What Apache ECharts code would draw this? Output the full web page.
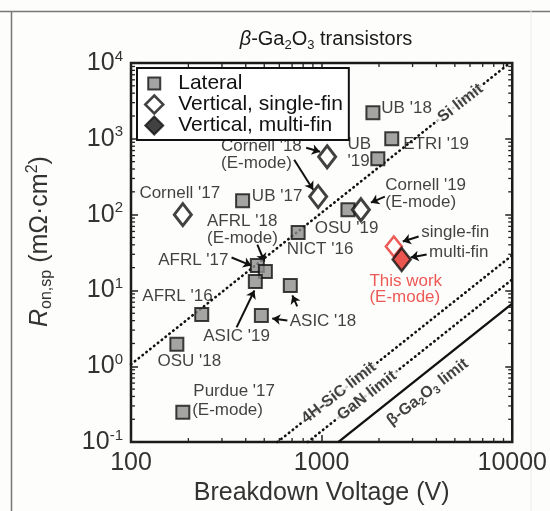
<!DOCTYPE html>
<html><head><meta charset="utf-8">
<script src="https://cdn.jsdelivr.net/npm/echarts@6/dist/echarts.min.js"></script>
<style>html,body{margin:0;padding:0;background:#fdfdfb}#c{width:550px;height:511px}</style>
</head><body><div id="c"></div><script>
const FONT = "'Liberation Sans', Arial, Helvetica, sans-serif";

// Lateral devices [V (V), Ron,sp (mOhm.cm2)]
const lateral = [
  [1858, 2200],  // UB '18
  [2333, 1000],  // ETRI '19
  [1972, 546],   // UB '19
  [1374, 116],   // OSU '19
  [753, 58],     // NICT '16
  [385, 153],    // UB '17
  [460, 21.3],   // AFRL '17
  [507, 17.8],   // AFRL '18 (E-mode)
  [449, 13.1],   // ASIC '19
  [685, 11.6],   // ASIC '18
  [483, 4.69],   // ASIC '18
  [235, 4.83],   // AFRL '16
  [174, 1.95],   // OSU '18
  [187, 0.248]   // Purdue '17
];
// Vertical single-fin devices
const singleFin = [
  [187, 100],    // Cornell '17
  [1069, 579],   // Cornell '18
  [959, 173],    // Cornell '18 (E-mode)
  [1607, 116]    // Cornell '19 (E-mode)
];
const multiFin = [];
const thisWorkSingle = [[2393, 37.9]];
const thisWorkMulti = [[2630, 25.6]];

// material limit lines (end points)
const siLimit = [[100, 1.06], [9710, 10000]];
const sicLimit = [[586, 0.1], [10000, 29.1]];
const ganLimit = [[845, 0.1], [10000, 14]];
const gaoLimit = [[1222, 0.1], [10000, 6.7]];

const limitLabels = [
  [5350, 2950, 'Si limit'],
  [1233, 0.445, '4H-SiC limit'],
  [1730, 0.41, 'GaN limit']
];
const gaoLabel = [[3600, 0.455, 'gao']];

// annotation text anchors (left edge, middle) in data units
const notes = [
  [2045, 2560, "UB '18"],
  [2665, 834, "ETRI '19"],
  [1358, 655, "UB\n'19"],
  [2146, 189, "Cornell '19\n(E-mode)"],
  [914, 65.5, "OSU '19"],
  [653, 34.6, "NICT '16"],
  [3311, 58, "single-fin"],
  [3639, 31.6, "multi-fin"],
  [295, 615, "Cornell '18\n(E-mode)"],
  [110, 189, "Cornell '17"],
  [428, 173, "UB '17"],
  [249, 63.5, "AFRL '18\n(E-mode)"],
  [138, 24.8, "AFRL '17"],
  [114, 8.34, "AFRL '16"],
  [238, 2.48, "ASIC '19"],
  [676, 3.91, "ASIC '18"],
  [137, 1.16, "OSU '18"],
  [211, 0.469, "Purdue '17"],
  [208, 0.264, "(E-mode)"]
];
const redNotes = [[1770, 10.3, "This work\n(E-mode)"]];

// arrows: [from, to]
const arrows = [
  [[830, 762], [981, 675]],
  [[718, 530], [903, 213]],
  [[2146, 173], [1814, 144]],
  [[3228, 51.4], [2665, 44.2]],
  [[3556, 29.8], [2930, 27.2]],
  [[460, 40.3], [501, 24.1]],
  [[337, 27.2], [428, 21.3]],
  [[358, 3.26], [444, 10]],
  [[661, 4.03], [551, 4.28]],
  [[745, 6.15], [702, 8.6]]
];

const xTicks = [100, 1000, 10000];
const mant = [2, 3, 4, 5, 6, 7, 8, 9];
const xMinorTicks = [100, 1000].flatMap(d => mant.map(m => m * d));
const yMinorTicks = [0.1, 1, 10, 100, 1000].flatMap(d => mant.map(m => +(m * d).toPrecision(3)));

const chart = echarts.init(document.getElementById('c'), null, {renderer: 'canvas'});

const dotted = {type: [0.5, 4.4], cap: 'round', width: 2.6, color: '#111'};
function limitLine(data, style, name) {
  return {type: 'line', name, data, symbol: 'none', showSymbol: false, silent: true,
    lineStyle: style, z: 2, clip: true};
}
function tickSeries(data, isX) {
  return {
    type: 'custom', silent: true, z: 3,
    data: data.map(v => isX ? [v, 1] : [1000, v]),
    renderItem(params, api) {
      const cs = params.coordSys;
      const st = {stroke: '#222', lineWidth: 1.3};
      const L = 4;
      if (isX) {
        const x = api.coord([api.value(0), 1])[0];
        return {type: 'group', children: [
          {type: 'line', shape: {x1: x, y1: cs.y + cs.height, x2: x, y2: cs.y + cs.height - L}, style: st},
          {type: 'line', shape: {x1: x, y1: cs.y, x2: x, y2: cs.y + L}, style: st}
        ]};
      } else {
        const y = api.coord([1000, api.value(1)])[1];
        return {type: 'group', children: [
          {type: 'line', shape: {x1: cs.x, y1: y, x2: cs.x + L, y2: y}, style: st},
          {type: 'line', shape: {x1: cs.x + cs.width, y1: y, x2: cs.x + cs.width - L, y2: y}, style: st}
        ]};
      }
    }
  };
}
const tickStyle = {inside: true, length: 7, lineStyle: {color: '#222', width: 1.5}};
const squareIcon = 'path://M0,0M3,3L15,3L15,15L3,15ZM18,18';

chart.setOption({
  animation: false,
  backgroundColor: '#fdfdfb',
  textStyle: {fontFamily: FONT},
  title: {
    text: '{i|β}-Ga{s|2}O{s|3} transistors',
    left: 321, top: 21, textAlign: 'center',
    textStyle: {
      rich: {
        i: {fontSize: 20, fontStyle: 'italic', fontFamily: FONT, color: '#1a1a1a', lineHeight: 26},
        s: {fontSize: 13, fontFamily: FONT, color: '#1a1a1a', lineHeight: 4, verticalAlign: 'bottom'}
      },
      fontSize: 20, fontFamily: FONT, color: '#1a1a1a', fontWeight: 'normal', lineHeight: 26
    }
  },
  grid: {left: 131, right: 36, top: 63, bottom: 68, show: true, borderColor: '#1a1a1a', borderWidth: 2.5,
    backgroundColor: 'transparent'},
  legend: {
    data: [
      {name: 'Lateral', icon: squareIcon, itemStyle: {borderWidth: 2}},
      {name: 'Vertical, single-fin', icon: 'diamond', itemStyle: {borderWidth: 2.5}},
      {name: 'Vertical, multi-fin', icon: 'diamond', itemStyle: {borderWidth: 2}}
    ],
    orient: 'vertical', left: 137, top: 68, itemWidth: 18, itemHeight: 18, itemGap: 0,
    padding: [5, 6, 4, 7], borderColor: '#111', borderWidth: 2, backgroundColor: '#fff',
    selectedMode: false,
    textStyle: {fontSize: 21, fontFamily: FONT, color: '#111', lineHeight: 18, padding: [0, 0, 0, 10]}
  },
  xAxis: [{
    type: 'log', logBase: 10, min: 100, max: 10000, position: 'bottom',
    name: 'Breakdown Voltage (V)', nameLocation: 'middle', nameGap: 33,
    nameTextStyle: {fontSize: 25, color: '#333', fontFamily: FONT},
    axisLine: {show: false}, splitLine: {show: false}, axisTick: tickStyle,
    axisLabel: {fontSize: 25, color: '#333', margin: 9, fontFamily: FONT,
      formatter: v => String(xTicks.find(t => Math.abs(t - v) / t < 1e-6) || Math.round(v))}
  }, {
    type: 'log', logBase: 10, min: 100, max: 10000, position: 'top',
    axisLine: {show: false}, splitLine: {show: false}, axisTick: tickStyle, axisLabel: {show: false}
  }],
  yAxis: [{
    type: 'log', logBase: 10, min: 0.1, max: 10000, position: 'left',
    name: '{i|R}{s|on,sp} (mΩ·cm{p|2})', nameLocation: 'middle', nameGap: 76, nameRotate: 90,
    nameTextStyle: {
      fontSize: 25, color: '#333', fontFamily: FONT, lineHeight: 30, padding: [0, 0, 0, 22],
      rich: {
        i: {fontSize: 25, fontStyle: 'italic', color: '#333', fontFamily: FONT, lineHeight: 30},
        s: {fontSize: 16, color: '#333', fontFamily: FONT, lineHeight: 6, verticalAlign: 'bottom'},
        p: {fontSize: 16, color: '#333', fontFamily: FONT, lineHeight: 12, verticalAlign: 'top'}
      }
    },
    axisLine: {show: false}, splitLine: {show: false}, axisTick: tickStyle,
    axisLabel: {
      margin: 8, fontFamily: FONT,
      formatter: v => '{b|10}{p|' + Math.round(Math.log10(v)) + '}',
      rich: {
        b: {fontSize: 25, lineHeight: 28, color: '#333', fontFamily: FONT},
        p: {fontSize: 15, lineHeight: 12, verticalAlign: 'top', color: '#333', fontFamily: FONT}
      }
    }
  }, {
    type: 'log', logBase: 10, min: 0.1, max: 10000, position: 'right',
    axisLine: {show: false}, splitLine: {show: false}, axisTick: tickStyle, axisLabel: {show: false}
  }],
  graphic: [
    {type: 'line', shape: {x1: 0, y1: 11.5, x2: 550, y2: 11.5}, style: {stroke: '#777', lineWidth: 1.5}, silent: true},
    {type: 'line', shape: {x1: 11.5, y1: 11, x2: 11.5, y2: 511}, style: {stroke: '#777', lineWidth: 1.5}, silent: true},
    {type: 'line', shape: {x1: 531, y1: 11, x2: 531, y2: 511}, style: {stroke: '#ececec', lineWidth: 1}, silent: true}
  ],
  series: [
    tickSeries(xMinorTicks, true),
    tickSeries(yMinorTicks, false),
    limitLine(siLimit, dotted, 'Si'),
    limitLine(sicLimit, dotted, 'SiC'),
    limitLine(ganLimit, dotted, 'GaN'),
    limitLine(gaoLimit, {type: 'solid', width: 2.4, color: '#111'}, 'Ga2O3'),
    {
      type: 'scatter', name: 'limitLabels', data: limitLabels, symbolSize: 1, silent: true, z: 6,
      itemStyle: {color: 'transparent'},
      label: {show: true, position: 'inside', rotate: 38, formatter: p => p.data[2],
        fontSize: 16, fontWeight: 'bold', color: '#111', fontFamily: FONT,
        backgroundColor: '#fdfdfb', padding: [0, 3]}
    },
    {
      type: 'scatter', name: 'gaoLabel', data: gaoLabel, symbolSize: 1, silent: true, z: 6,
      itemStyle: {color: 'transparent'},
      label: {show: true, position: 'inside', rotate: 38,
        formatter: () => '{b|β-Ga}{s|2}{b|O}{s|3}{b| limit}',
        rich: {
          b: {fontSize: 16, fontWeight: 'bold', color: '#111', fontFamily: FONT, lineHeight: 20},
          s: {fontSize: 11, fontWeight: 'bold', color: '#111', fontFamily: FONT, lineHeight: 8, verticalAlign: 'bottom'}
        }}
    },
    {
      type: 'lines', coordinateSystem: 'cartesian2d', silent: true, z: 3,
      data: arrows.map(a => ({coords: a})),
      symbol: ['none', 'arrow'], symbolSize: 8,
      lineStyle: {color: '#111', width: 2, opacity: 1, curveness: 0}
    },
    {name: 'Lateral', type: 'scatter', data: lateral, symbol: 'rect', symbolSize: 13, z: 4,
      itemStyle: {color: '#8d8d8d', borderColor: '#111', borderWidth: 2}, emphasis: {disabled: true}},
    {name: 'Vertical, single-fin', type: 'scatter', data: singleFin, symbol: 'diamond', symbolSize: [17, 22], z: 5,
      itemStyle: {color: '#fff', borderColor: '#111', borderWidth: 3}, emphasis: {disabled: true}},
    {name: 'Vertical, multi-fin', type: 'scatter', data: multiFin, symbol: 'diamond', symbolSize: [17, 22], z: 5,
      itemStyle: {color: '#111', borderColor: '#111', borderWidth: 2}},
    {name: 'This work, single-fin', type: 'scatter', data: thisWorkSingle, symbol: 'diamond', symbolSize: [16, 20], z: 5,
      itemStyle: {color: '#fff', borderColor: '#e8302c', borderWidth: 2.5}, emphasis: {disabled: true}},
    {name: 'This work, multi-fin', type: 'scatter', data: thisWorkMulti, symbol: 'diamond', symbolSize: [18, 23], z: 5,
      itemStyle: {color: '#e62a26', borderColor: '#111', borderWidth: 2.5}, emphasis: {disabled: true}},
    {
      type: 'scatter', name: 'notes', data: notes, symbolSize: 1, silent: true, z: 6,
      itemStyle: {color: 'transparent'},
      label: {show: true, position: 'right', distance: 0, formatter: p => p.data[2],
        fontSize: 17, color: '#111', fontFamily: FONT, lineHeight: 16.5, align: 'left'}
    },
    {
      type: 'scatter', name: 'redNotes', data: redNotes, symbolSize: 1, silent: true, z: 6,
      itemStyle: {color: 'transparent'},
      label: {show: true, position: 'right', distance: 0, formatter: p => p.data[2],
        fontSize: 17, color: '#e8302c', fontFamily: FONT, lineHeight: 16.5, align: 'left'}
    }
  ]
});
</script></body></html>
